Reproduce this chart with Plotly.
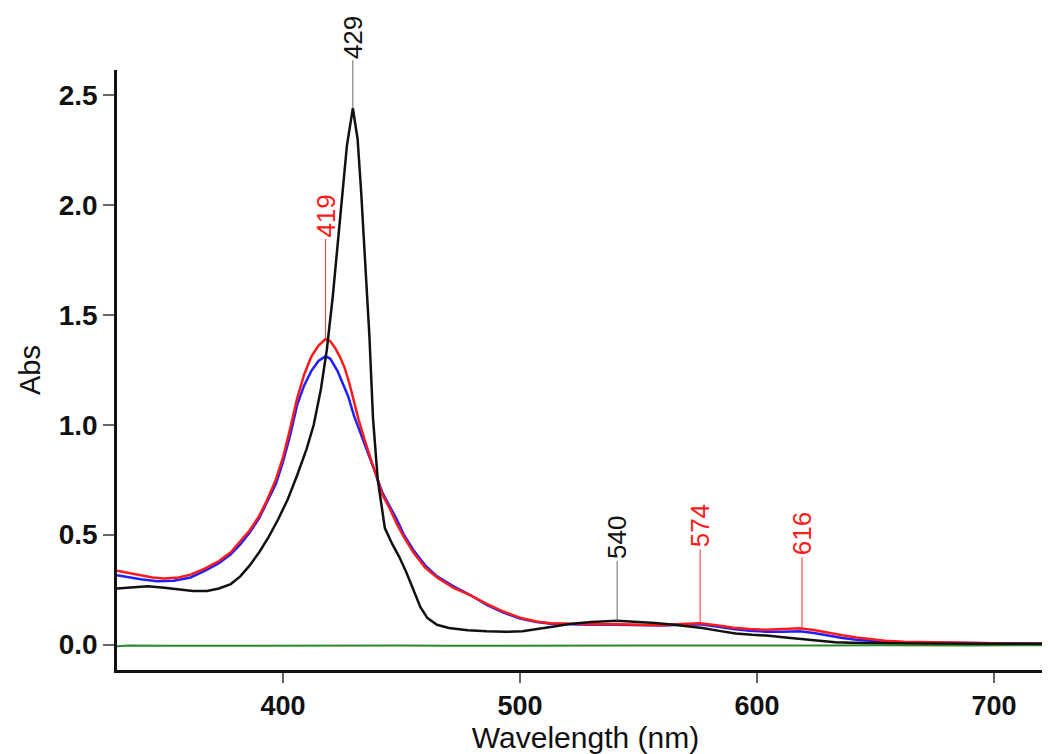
import plotly.graph_objects as go

# ---- data ----
black_x = [330, 335, 343, 350, 356, 362, 368, 373, 378, 382, 386, 390, 394, 398, 402, 406, 410, 413,
           416, 418.5, 421, 423, 425, 427, 429.5, 431.5, 433, 435, 436.5, 438, 440, 443, 446, 449, 452,
           455, 458, 461, 465, 470, 478, 486, 494, 501, 508, 515, 522, 530, 541, 550, 557, 565, 571,
           577, 584, 591, 598, 605, 612, 619, 626, 633, 640, 650, 670, 700, 725]
black_y = [0.255, 0.258, 0.265, 0.258, 0.25, 0.243, 0.244, 0.255, 0.275, 0.31, 0.36, 0.42, 0.49, 0.57,
           0.66, 0.77, 0.89, 1.00, 1.16, 1.34, 1.58, 1.80, 2.05, 2.27, 2.44, 2.30, 2.06, 1.70, 1.40,
           1.03, 0.75, 0.53, 0.46, 0.40, 0.33, 0.25, 0.17, 0.12, 0.09, 0.075, 0.065, 0.06, 0.058, 0.06,
           0.07, 0.083, 0.095, 0.102, 0.108, 0.104, 0.098, 0.09, 0.083, 0.075, 0.062, 0.05, 0.044,
           0.04, 0.032, 0.025, 0.016, 0.01, 0.008, 0.006, 0.005, 0.004, 0.003]

red_x = [330, 335, 340, 345, 350, 356, 361, 367, 373, 378, 382, 386, 390, 393, 397, 400, 403, 406,
         409, 412, 415, 418, 420, 422, 424, 426, 428, 430, 432, 434.5, 437, 439.5, 442, 445, 448, 451,
         455, 460, 465, 472, 479, 486, 493, 500, 507, 513, 520, 530, 540, 550, 560, 568, 576, 583,
         590, 597, 604, 611, 618, 624, 630, 636, 642, 648, 654, 662, 675, 690, 705, 725]
red_y = [0.336, 0.325, 0.315, 0.305, 0.300, 0.305, 0.318, 0.345, 0.38, 0.42, 0.47, 0.52, 0.585, 0.65,
         0.75, 0.85, 0.98, 1.12, 1.23, 1.31, 1.36, 1.39, 1.38, 1.35, 1.31, 1.26, 1.19, 1.10, 1.02,
         0.93, 0.85, 0.77, 0.68, 0.62, 0.55, 0.49, 0.42, 0.35, 0.305, 0.258, 0.225, 0.185, 0.15,
         0.122, 0.105, 0.097, 0.094, 0.092, 0.092, 0.09, 0.088, 0.093, 0.097, 0.088, 0.076, 0.07,
         0.067, 0.07, 0.074, 0.066, 0.053, 0.042, 0.032, 0.024, 0.017, 0.013, 0.01, 0.007, 0.005, 0.003]

blue_x = [330, 335, 340, 347, 354, 361, 367, 373, 378, 382, 386, 390, 393, 397, 400, 403, 406, 409,
          412, 415, 418, 420, 423, 425, 427.5, 430, 433, 436, 438.7, 442, 445, 448, 451, 455, 460,
          465, 472, 479, 486, 493, 500, 507, 513, 520, 530, 540, 550, 560, 568, 576, 583, 590, 597,
          604, 611, 618, 624, 630, 636, 642, 648, 654, 662, 675, 690, 705, 725]
blue_y = [0.315, 0.305, 0.297, 0.288, 0.29, 0.305, 0.335, 0.37, 0.41, 0.455, 0.51, 0.575, 0.64, 0.73,
          0.83, 0.95, 1.09, 1.18, 1.245, 1.29, 1.312, 1.30, 1.245, 1.19, 1.13, 1.04, 0.955, 0.87,
          0.79, 0.69, 0.63, 0.57, 0.50, 0.43, 0.36, 0.31, 0.265, 0.225, 0.18, 0.145, 0.118, 0.102,
          0.095, 0.092, 0.09, 0.09, 0.088, 0.087, 0.09, 0.092, 0.082, 0.07, 0.063, 0.058, 0.058,
          0.06, 0.052, 0.04, 0.03, 0.022, 0.016, 0.012, 0.01, 0.008, 0.006, 0.004, 0.003]

green_x = [330, 335, 350, 370, 390, 410, 430, 450, 470, 490, 510, 530, 550, 570, 590, 610, 630, 650,
           670, 690, 710, 725]
green_y = [-0.008, -0.004, -0.006, -0.005, -0.007, -0.006, -0.005, -0.004, -0.006, -0.005, -0.006,
           -0.005, -0.004, -0.005, -0.006, -0.004, -0.005, -0.003, -0.005, -0.004, -0.003, -0.004]

peak_labels = ["429", "419", "540", "574", "616"]
peak_x = [429.5, 418, 541, 576, 619]
peak_y = [2.44, 1.39, 0.108, 0.097, 0.074]
peak_series = ["black", "red", "black", "red", "red"]

x_ticks = [400, 500, 600, 700]
y_ticks = [0.0, 0.5, 1.0, 1.5, 2.0, 2.5]

# ---- figure ----
fig = go.Figure()
fig.add_trace(go.Scatter(x=green_x, y=green_y, mode="lines", line=dict(color="#2a8a2a", width=2)))
fig.add_trace(go.Scatter(x=blue_x, y=blue_y, mode="lines", line=dict(color="#1f1fff", width=2.5)))
fig.add_trace(go.Scatter(x=red_x, y=red_y, mode="lines", line=dict(color="#ff1a1a", width=2.5)))
fig.add_trace(go.Scatter(x=black_x, y=black_y, mode="lines", line=dict(color="#111111", width=2.5)))

text_color = {"black": "#111111", "red": "#ff1a1a"}
line_color = {"black": "#666666", "red": "#ff3333"}
offsets = [-71, -123, -83, -97, -94]
for lab, px, py, s, off in zip(peak_labels, peak_x, peak_y, peak_series, offsets):
    fig.add_annotation(x=px, y=py, xref="x", yref="y", text=lab, textangle=-90,
                       showarrow=True, arrowhead=0, arrowwidth=1, arrowcolor=line_color[s],
                       ax=0, ay=off, font=dict(family="Liberation Sans, Arial", size=26,
                                                color=text_color[s]))

fig.update_layout(
    width=1050, height=754,
    margin=dict(l=109, r=4, t=62, b=92, autoexpand=False),
    paper_bgcolor="white", plot_bgcolor="white",
    showlegend=False,
    font=dict(family="Liberation Sans, Arial", color="#111111"),
)
fig.update_xaxes(range=[330, 725.3], tickvals=x_ticks, ticks="outside", ticklen=10, tickwidth=1.5,
                 tickcolor="#666666", showline=True, linecolor="#111111", linewidth=2.5,
                 showgrid=False, zeroline=False, automargin=False,
                 tickfont=dict(family="Liberation Sans, Arial", size=27, color="#111111", weight="bold"),
                 title=dict(text="Wavelength (nm)", font=dict(size=30, color="#111111"), standoff=2))
fig.update_yaxes(range=[-0.116, 2.614], tickvals=y_ticks, tickformat=".1f", ticks="outside",
                 ticklen=11, tickwidth=1.5, tickcolor="#666666", showline=True, linecolor="#111111",
                 linewidth=2.5, showgrid=False, zeroline=False, automargin=False,
                 tickfont=dict(family="Liberation Sans, Arial", size=28, color="#111111", weight="bold"),
                 title=dict(text="Abs", font=dict(size=29, color="#111111"), standoff=10))

fig.write_html("out.html")
